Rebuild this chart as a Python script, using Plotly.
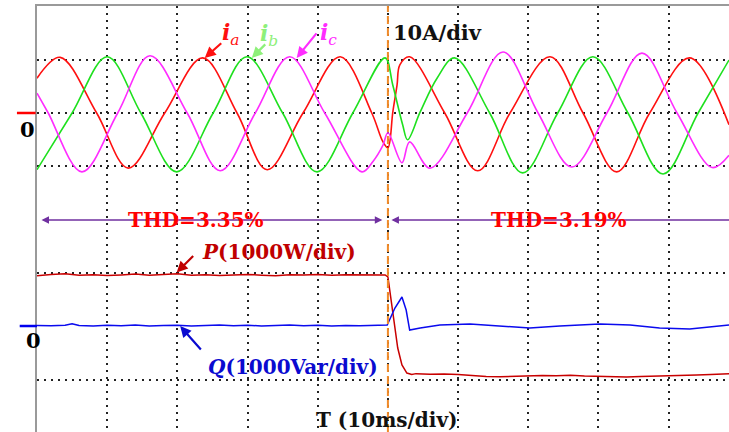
import plotly.graph_objects as go

# ---------------- data (time in ms, 10 ms/div) ----------------
switch_time = 50.0

# phase currents (A, 10 A/div) - key points
ia_t = [0, 3.3, 8.5, 13.0, 18.2, 23.6, 28.5, 32.8, 37.9, 43.2, 47.7, 49.3, 50.0,
        50.7, 51.3, 51.7, 53.1, 58.1, 62.8, 67.4, 73.1, 77.8, 82.6, 87.3, 93.0, 98.6]
ia_v = [6.5, 10.4, 0, -10.3, 0, 10.3, 0, -10.6, 0, 10.5, 0, -5.4, -6.5,
        0.2, 5.2, 9.0, 10.5, 0, -10.8, 0, 10.5, 0, -11.0, 0, 10.3, -2.2]

ib_t = [0, 5.0, 10.0, 14.8, 19.9, 25.1, 29.9, 35.0, 39.9, 45.0, 49.6, 50.7, 52.1,
        52.8, 54.6, 57.0, 59.5, 64.5, 69.2, 74.2, 79.2, 84.2, 89.2, 94.2, 98.6]
ib_v = [-10.6, 0, 10.5, 0, -11.0, 0, 10.5, 0, -11.0, 0, 10.3, 5.2, -2.2,
        -5.0, 0.2, 6.5, 10.3, 0, -11.2, 0, 10.5, 0, -11.4, 0, 9.9]

ic_t = [0, 1.6, 6.4, 11.5, 16.1, 21.4, 26.1, 31.1, 36.0, 41.0, 46.3, 47.9, 49.3,
        50.0, 52.0, 53.1, 56.0, 61.3, 66.4, 71.4, 76.2, 81.2, 86.2, 91.2, 96.2, 98.6]
ic_v = [3.7, 0, -11.0, 0, 10.7, 0, -10.8, 0, 10.5, 0, -11.0, -9.0, -6.0,
        -3.7, -9.3, -5.4, -10.3, 0, 11.4, 0, -10.1, 0, 11.2, 0, -10.2, -7.9]

# active power P (W, 1000 W/div)
p_t = [0, 2, 4, 6, 8, 10, 12, 14, 16, 18, 20, 22, 24, 26, 28, 30, 32, 34, 36, 38,
       40, 42, 44, 46, 48, 49.6, 50.0, 50.7, 51.4, 52.0, 52.7, 53.4,
       54, 56, 58, 60, 62, 64, 66, 68, 70, 72, 74, 76, 78, 80, 82, 84, 86, 88,
       90, 92, 94, 96, 98, 98.6]
p_v = [940, 965, 975, 950, 960, 945, 955, 970, 950, 965, 975, 950, 960, 945, 955,
       965, 950, 940, 960, 955, 965, 950, 960, 955, 960, 955, 916, 206, -411, -729,
       -879, -905,
       -890, -900, -895, -905, -930, -945, -950, -940, -935, -925, -930, -920, -935,
       -945, -950, -955, -945, -940, -935, -930, -915, -905, -900, -890]

# reactive power Q (Var, 1000 Var/div)
q_t = [0, 2, 4, 5, 6, 8, 10, 12, 14, 16, 18, 20, 22, 24, 26, 28, 30, 32, 34, 36,
       38, 40, 42, 44, 46, 48, 49.9, 51.0, 52.0, 52.6, 53.1, 54.6,
       57.4, 61.7, 66.0, 70.2, 74.5, 80.2, 84.5, 88.7, 93.0, 95.9, 98.6]
q_v = [10, 5, 15, 40, 10, 0, 15, 5, 20, 0, 10, 15, 0, 10, 20, 5, 15, 0, 10, 20,
       5, 15, 0, 10, 5, 15, 19, 336, 542, 299, -75, -37,
       19, 37, 0, -37, 0, 37, 19, -37, -56, -20, 19]

# ---------------- figure ----------------
fig = go.Figure()

cur_line = dict(width=1.6, shape='spline', smoothing=1)
fig.add_trace(go.Scatter(x=ia_t, y=ia_v, mode='lines', line=dict(color='#ff1010', **cur_line)))
fig.add_trace(go.Scatter(x=ib_t, y=ib_v, mode='lines', line=dict(color='#1ee01e', **cur_line)))
fig.add_trace(go.Scatter(x=ic_t, y=ic_v, mode='lines', line=dict(color='#ff2cff', **cur_line)))
fig.add_trace(go.Scatter(x=p_t, y=p_v, mode='lines', yaxis='y2',
                         line=dict(color='#c80000', width=1.5)))
fig.add_trace(go.Scatter(x=q_t, y=q_v, mode='lines', yaxis='y2',
                         line=dict(color='#0a0aee', width=1.5)))

grid = dict(showgrid=True, gridcolor='#222222', griddash='2px,5px', gridwidth=1.5,
            showticklabels=False, ticks='', zeroline=False)

fig.update_layout(
    width=729, height=432,
    margin=dict(l=37, r=0, t=6, b=0),
    plot_bgcolor='white', paper_bgcolor='white',
    showlegend=False,
    font=dict(family='DejaVu Serif'),
    xaxis=dict(range=[0, 98.6], tick0=0, dtick=10, side='top',
               showline=True, linecolor='#9a9a9a', linewidth=1.5, **grid),
    yaxis=dict(range=[-59.63, 20], tickvals=[-10, 0, 10],
               showline=True, linecolor='#9a9a9a', linewidth=1.5, **grid),
    yaxis2=dict(range=[-1981, 5981], tickvals=[-1000, 1000], overlaying='y',
                showline=False, **grid),
)

# switching instant
fig.add_vline(x=switch_time, line=dict(color='#f08a28', width=2, dash='8px,4px'))

# zero markers left of the plot
fig.add_shape(type='line', xref='paper', x0=-0.029, x1=-0.002, yref='y', y0=0, y1=0,
              line=dict(color='#ff0000', width=2.5))
fig.add_shape(type='line', xref='paper', x0=-0.025, x1=0, yref='y2', y0=0, y1=0,
              line=dict(color='#0000ee', width=2.5))

ann = []
txt = dict(family='DejaVu Serif', size=20)
# zero labels
ann.append(dict(xref='paper', yref='y', x=-0.027, y=-3.0, text='<b>0</b>', showarrow=False,
                font=dict(txt, size=21, color='black')))
ann.append(dict(xref='paper', yref='y2', x=-0.019, y=-262, text='<b>0</b>', showarrow=False,
                font=dict(txt, size=21, color='black')))

# phase labels with arrows
def arrow(x, y, ax, ay, color, yref='y'):
    return dict(x=x, y=y, ax=ax, ay=ay, xref='x', yref=yref, text='', showarrow=True,
                arrowhead=2, arrowsize=1, arrowwidth=2.2, arrowcolor=color)

ann.append(dict(x=27.6, y=14.8, text='<b><i>i</i></b><sub><i>a</i></sub>', showarrow=False,
                font=dict(txt, size=22, color='#ff1010')))
ann.append(arrow(23.9, 10.3, 18, -16, '#ff1010'))
ann.append(dict(x=33.0, y=14.6, text='<b><i>i</i></b><sub><i>b</i></sub>', showarrow=False,
                font=dict(txt, size=22, color='#8ef07a')))
ann.append(arrow(30.6, 10.3, 15, -15, '#8ef07a'))
ann.append(dict(x=41.6, y=14.8, text='<b><i>i</i></b><sub><i>c</i></sub>', showarrow=False,
                font=dict(txt, size=22, color='#ff2cff')))
ann.append(arrow(37.0, 10.3, 21, -26, '#ff2cff'))

# scale labels
ann.append(dict(x=50.4, y=15.0, xanchor='left', text='<b>10A/div</b>', showarrow=False,
                font=dict(txt, size=21, color='#111111')))
ann.append(dict(x=49.9, y=-57.4, text='<b>T (10ms/div)</b>', showarrow=False,
                font=dict(txt, size=20, color='#111111')))

# THD arrows
ann.append(dict(x=49.2, y=-20, ax=0.43, ay=-20, xref='x', yref='y', axref='x', ayref='y',
                text='', showarrow=True, arrowside='end+start', arrowhead=2, startarrowhead=2,
                arrowsize=1, startarrowsize=1, arrowwidth=1.5, arrowcolor='#7030a0'))
ann.append(dict(x=50.5, y=-20, ax=100.5, ay=-20, xref='x', yref='y', axref='x', ayref='y',
                text='', showarrow=True, arrowhead=2, arrowsize=1, arrowwidth=1.5,
                arrowcolor='#7030a0'))
ann.append(dict(x=22.6, y=-20, text='<b>THD=3.35%</b>', showarrow=False,
                font=dict(txt, size=20, color='#ff0000')))
ann.append(dict(x=74.4, y=-20, text='<b>THD=3.19%</b>', showarrow=False,
                font=dict(txt, size=20, color='#ff0000')))

# P / Q labels
ann.append(dict(x=34.5, y=1383, yref='y2', text='<b><i>P</i>(1000W/div)</b>', showarrow=False,
                font=dict(txt, size=20, color='#c00000')))
ann.append(arrow(19.9, 1000, 18, -18, '#c00000', yref='y2'))
ann.append(dict(x=36.5, y=-766, yref='y2', text='<b><i>Q</i>(1000Var/div)</b>', showarrow=False,
                font=dict(txt, size=20, color='#0a0ad0')))
ann.append(arrow(20.4, 0, 22, 25, '#0a0ad0', yref='y2'))

fig.update_layout(annotations=ann)
fig.write_html('out.html', config={'displayModeBar': False},
               post_script="document.body.style.margin='0';document.body.style.overflow='hidden';")
